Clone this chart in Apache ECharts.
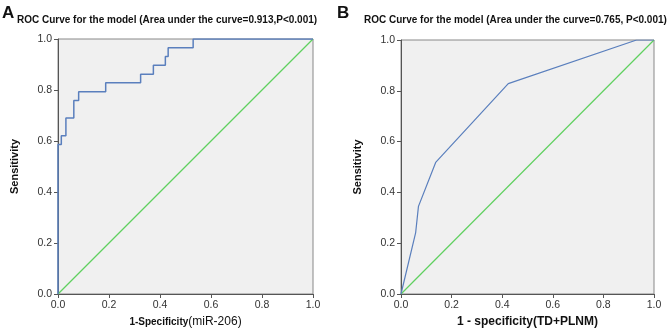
<!DOCTYPE html>
<html>
<head>
<meta charset="utf-8">
<script src="https://cdn.jsdelivr.net/npm/echarts@6/dist/echarts.min.js"></script>
<style>
html,body{margin:0;padding:0;background:#fff;}
#chart{width:670px;height:328px;}
</style>
</head>
<body>
<div id="chart"></div>
<script>
// Panel A: miR-206 ROC (staircase vertices)
var fprA = [0, 0, 0.013, 0.013, 0.031, 0.031, 0.062, 0.062, 0.081, 0.081, 0.187, 0.187, 0.324, 0.324, 0.374, 0.374, 0.421, 0.421, 0.432, 0.432, 0.530, 0.530, 1];
var tprA = [0, 0.586, 0.586, 0.621, 0.621, 0.690, 0.690, 0.759, 0.759, 0.793, 0.793, 0.828, 0.828, 0.862, 0.862, 0.897, 0.897, 0.931, 0.931, 0.966, 0.966, 1, 1];
// Panel B: TD+PLNM ROC
var fprB = [0, 0.058, 0.069, 0.137, 0.424, 0.931, 1];
var tprB = [0, 0.242, 0.345, 0.518, 0.828, 1, 1];
// reference diagonal
var diag = [0, 1];
var ticks = [0, 0.2, 0.4, 0.6, 0.8, 1.0];
var titleA = 'ROC Curve for the model (Area under the curve=0.913,P<0.001)';
var titleB = 'ROC Curve for the model (Area under the curve=0.765, P<0.001)';

function pairs(xs, ys){ return xs.map(function(x,i){ return [x, ys[i]]; }); }

var FONT = '"Liberation Sans", Arial, sans-serif';
var BLUE = '#5a7fbd';
var GREEN = '#5fd05f';

function axisCommon(){
  return {
    type:'value', min:0, max:1, interval:0.2,
    axisLine:{show:true, lineStyle:{color:'#555', width:1}},
    axisTick:{show:true, length:4, lineStyle:{color:'#555'}},
    splitLine:{show:false},
    axisLabel:{color:'#333', fontSize:10.5, fontFamily:FONT, margin:6, formatter:function(v){return v.toFixed(1);}}
  };
}
function xAx(idx, rich, nameStr){
  var a = axisCommon();
  a.gridIndex = idx;
  a.name = nameStr;
  a.nameLocation = 'middle';
  a.nameGap = 21;
  a.nameTextStyle = {fontFamily:FONT, color:'#111', rich:rich};
  return a;
}
function yAx(idx){
  var a = axisCommon();
  a.gridIndex = idx;
  a.name = 'Sensitivity';
  a.nameLocation = 'middle';
  a.nameGap = 38;
  a.nameTextStyle = {fontFamily:FONT, fontWeight:'bold', fontSize:11, color:'#111'};
  return a;
}

var chart = echarts.init(document.getElementById('chart'), null, {renderer:'canvas'});
chart.setOption({
  backgroundColor:'#fff',
  animation:false,
  title:[
    {text:'A', left:2, top:5, padding:0, textStyle:{fontFamily:FONT, fontWeight:'bold', fontSize:17, color:'#111'}},
    {text:titleA, left:17, top:15, padding:0, textStyle:{fontFamily:FONT, fontWeight:'bold', fontSize:10, color:'#111'}},
    {text:'B', left:337, top:5, padding:0, textStyle:{fontFamily:FONT, fontWeight:'bold', fontSize:17, color:'#111'}},
    {text:titleB, left:364, top:15, padding:0, textStyle:{fontFamily:FONT, fontWeight:'bold', fontSize:10, color:'#111'}}
  ],
  grid:[
    {left:58, top:39, width:255, height:255, show:true, backgroundColor:'#f0f0f0', borderColor:'#888', borderWidth:1, outerBoundsMode:'none', containLabel:false},
    {left:401, top:40, width:253, height:254, show:true, backgroundColor:'#f0f0f0', borderColor:'#888', borderWidth:1, outerBoundsMode:'none', containLabel:false}
  ],
  xAxis:[
    xAx(0, {a:{fontWeight:'bold', fontSize:10, fontFamily:FONT, color:'#111'}, b:{fontSize:12, fontFamily:FONT, color:'#111'}}, '{a|1-Specificity}{b|(miR-206)}'),
    xAx(1, {a:{fontWeight:'bold', fontSize:12, fontFamily:FONT, color:'#111'}, b:{fontWeight:'bold', fontSize:12, fontFamily:FONT, color:'#111'}}, '{a|1 - specificity}{b|(TD+PLNM)}')
  ],
  yAxis:[yAx(0), yAx(1)],
  series:[
    {type:'line', xAxisIndex:0, yAxisIndex:0, data:pairs(diag, diag), showSymbol:false, lineStyle:{color:GREEN, width:1.2}, z:2},
    {type:'line', xAxisIndex:0, yAxisIndex:0, data:pairs(fprA, tprA), showSymbol:false, lineStyle:{color:BLUE, width:1.5}, z:3},
    {type:'line', xAxisIndex:1, yAxisIndex:1, data:pairs(diag, diag), showSymbol:false, lineStyle:{color:GREEN, width:1.2}, z:2},
    {type:'line', xAxisIndex:1, yAxisIndex:1, data:pairs(fprB, tprB), showSymbol:false, lineStyle:{color:BLUE, width:1.2}, z:3}
  ]
});
</script>
</body>
</html>
